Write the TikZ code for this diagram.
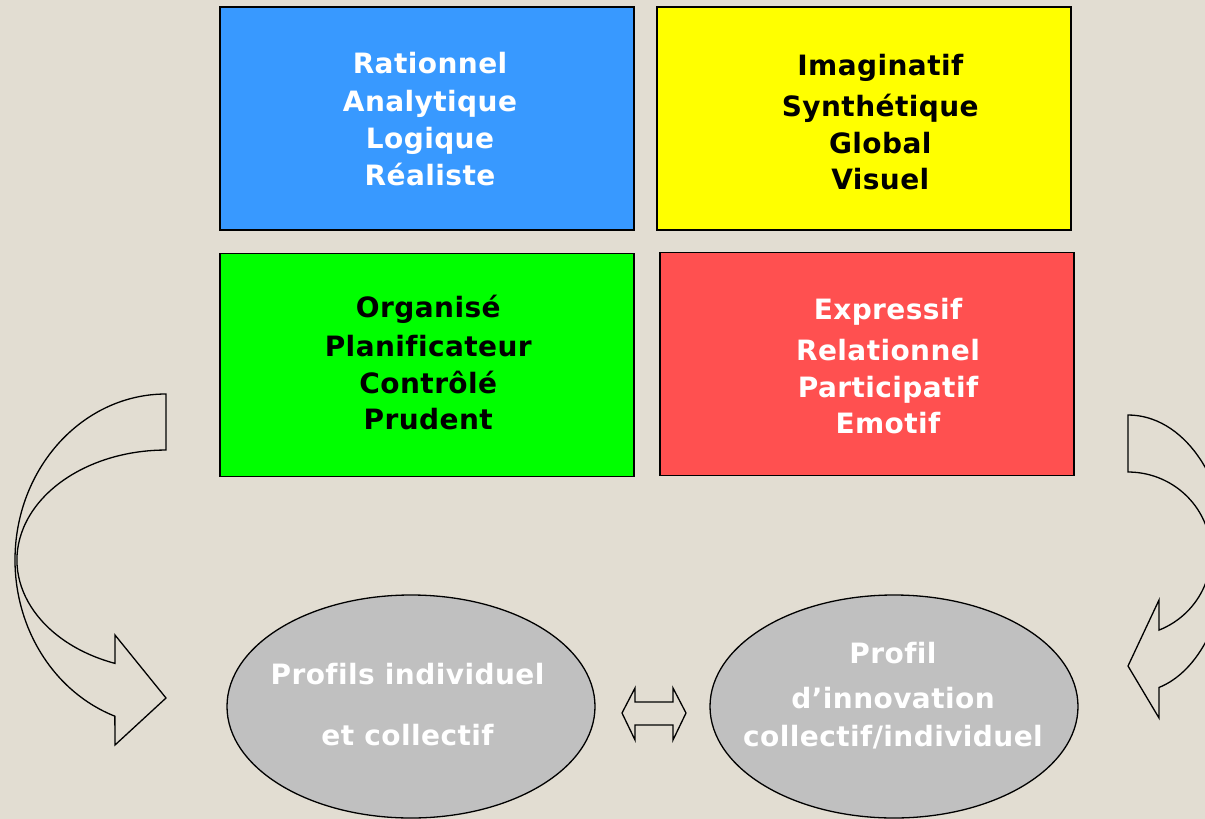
\documentclass[tikz,border=0pt]{standalone}
\usepackage{fontspec}
\setmainfont{DejaVu Sans}[Ligatures={NoCommon}, LetterSpace=1.5]
\usetikzlibrary{shapes.geometric}
\definecolor{bgc}{RGB}{226,221,210}
\definecolor{bluec}{RGB}{56,153,255}
\definecolor{yellowc}{RGB}{255,255,0}
\definecolor{greenc}{RGB}{0,255,0}
\definecolor{redc}{RGB}{255,80,80}
\definecolor{grayc}{RGB}{192,192,192}
\newcommand{\mytopstrut}{\rule{0pt}{24pt}}
\tikzset{
  quadbox/.style={draw=black, line width=1.8pt, rectangle, minimum width=414pt, minimum height=223pt, inner sep=0pt},
  quadtext/.style={anchor=north, inner sep=0pt, align=center, font=\fontsize{28}{36.7}\selectfont\bfseries},
  profil/.style={draw=black, line width=1.3pt, ellipse, fill=grayc, minimum width=368pt, minimum height=223pt, inner sep=0pt},
  profiltext/.style={anchor=north, inner sep=0pt, align=center, text=white},
  blockarrow/.style={draw=black, line width=1.3pt, line join=miter}
}
\begin{document}
\begin{tikzpicture}[x=1pt,y=-1pt]
\useasboundingbox (0,0) rectangle (1205,819);
\clip (0,0) rectangle (1205,819);
\fill[bgc] (0,0) rectangle (1205,819);

% four quadrants
\node[quadbox, fill=bluec] (blue) at (427,118.5) {};
\node[quadbox, fill=yellowc] (yellow) at (864,118.5) {};
\node[quadbox, fill=greenc] (green) at (427,365) {};
\node[quadbox, fill=redc] (red) at (867,364) {};

\node[quadtext, text=white] (tblue) at (430,49.3)
  {\mytopstrut Rationnel\\[1.7pt]Analytique\\Logique\\Réaliste};
\node[quadtext, text=black] (tyellow) at (880.3,51.3)
  {\mytopstrut Imaginatif\\[4.3pt]Synthétique\\Global\\Visuel};
\node[quadtext, text=black] (tgreen) at (428.3,293.3)
  {\mytopstrut Organisé\\[2.3pt]Planificateur\\Contrôlé\\Prudent};
\node[quadtext, text=white] (tred) at (888,295.7)
  {\mytopstrut Expressif\\[3.9pt]Relationnel\\Participatif\\Emotif};

% profile ellipses
\node[profil] (left) at (411,706.5) {};
\node[profil] (right) at (894,706.5) {};
\node[profiltext, font=\fontsize{28}{61}\selectfont\bfseries] (tleft) at (407.5,660)
  {\mytopstrut Profils individuel\\et collectif};
\node[profiltext, font=\fontsize{28}{38.4}\selectfont\bfseries] (tright) at (893,639.3)
  {\mytopstrut Profil\\[6.6pt]d’innovation\\collectif/individuel};

% double arrow between the ellipses
\coordinate (dl) at (622,713);
\coordinate (dr) at (686,713);
\draw[blockarrow] (dl) -- (635,688) -- (635,702) -- (673,702) -- (673,688) -- (dr)
  -- (673,740) -- (673,725) -- (635,725) -- (635,740) -- cycle;

% left curved arrow
\draw[blockarrow] (166,394)
  arc[start angle=-90, end angle=-250.2, x radius=151, y radius=166]
  -- (115,745) -- (166,698) -- (115,635) -- (115,663.4)
  arc[start angle=-250, end angle=-90, x radius=149, y radius=110]
  -- cycle;

% right curved arrow
\draw[blockarrow] (1128,415)
  arc[start angle=-90, end angle=0, x radius=98.6, y radius=138.5]
  arc[start angle=0, end angle=75.3, x radius=90.6, y radius=138.5]
  -- (1159,718) -- (1128,666) -- (1159,600) -- (1159,630.1)
  arc[start angle=68.1, end angle=-90, x radius=83, y radius=82]
  -- cycle;
\end{tikzpicture}
\end{document}
